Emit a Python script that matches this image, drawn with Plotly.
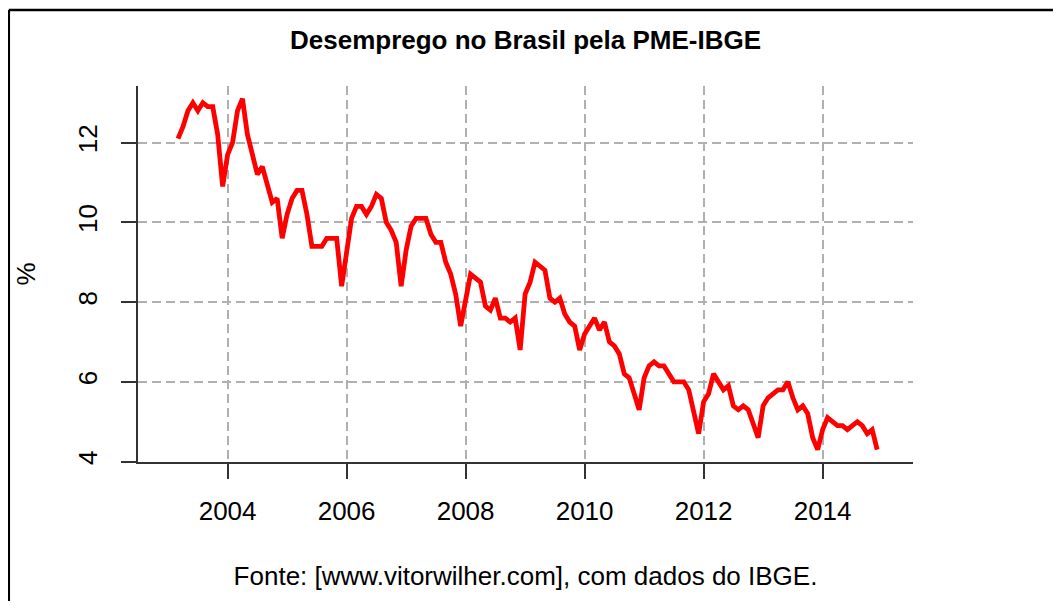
import plotly.graph_objects as go

# ---- data: PME-IBGE monthly unemployment rate (%), Mar 2003 - Dec 2014 ----
start_year = 2003
start_month = 3
unemployment = [
    # 2003 (Mar-Dec)
    12.1, 12.4, 12.8, 13.0, 12.8, 13.0, 12.9, 12.9, 12.2, 10.9,
    # 2004
    11.7, 12.0, 12.8, 13.1, 12.2, 11.7, 11.2, 11.4, 11.0, 10.5, 10.6, 9.6,
    # 2005
    10.2, 10.6, 10.8, 10.8, 10.2, 9.4, 9.4, 9.4, 9.6, 9.6, 9.6, 8.4,
    # 2006
    9.2, 10.1, 10.4, 10.4, 10.2, 10.4, 10.7, 10.6, 10.0, 9.8, 9.5, 8.4,
    # 2007
    9.3, 9.9, 10.1, 10.1, 10.1, 9.7, 9.5, 9.5, 9.0, 8.7, 8.2, 7.4,
    # 2008
    8.0, 8.7, 8.6, 8.5, 7.9, 7.8, 8.1, 7.6, 7.6, 7.5, 7.6, 6.8,
    # 2009
    8.2, 8.5, 9.0, 8.9, 8.8, 8.1, 8.0, 8.1, 7.7, 7.5, 7.4, 6.8,
    # 2010
    7.2, 7.4, 7.6, 7.3, 7.5, 7.0, 6.9, 6.7, 6.2, 6.1, 5.7, 5.3,
    # 2011
    6.1, 6.4, 6.5, 6.4, 6.4, 6.2, 6.0, 6.0, 6.0, 5.8, 5.2, 4.7,
    # 2012
    5.5, 5.7, 6.2, 6.0, 5.8, 5.9, 5.4, 5.3, 5.4, 5.3, 4.9, 4.6,
    # 2013
    5.4, 5.6, 5.7, 5.8, 5.8, 6.0, 5.6, 5.3, 5.4, 5.2, 4.6, 4.3,
    # 2014
    4.8, 5.1, 5.0, 4.9, 4.9, 4.8, 4.9, 5.0, 4.9, 4.7, 4.8, 4.3,
]

x_tick_vals = [2004, 2006, 2008, 2010, 2012, 2014]
x_tick_text = ["2004", "2006", "2008", "2010", "2012", "2014"]
y_tick_vals = [4, 6, 8, 10, 12]
y_tick_text = ["4", "6", "8", "10", "12"]

chart_title = "Desemprego no Brasil pela PME-IBGE"
x_label = "Fonte: [www.vitorwilher.com], com dados do IBGE."
y_label = "%"

# time index as in an R ts object (year + (month-1)/12)
time_index = [start_year + (start_month - 1 + i) / 12 for i in range(len(unemployment))]

FONT = "Liberation Sans, Arial, sans-serif"
W, H = 1045, 593
ML, MR, MT, MB = 130, 140, 78, 139
PW, PH = W - ML - MR, H - MT - MB

fig = go.Figure()
fig.add_trace(go.Scatter(
    x=time_index, y=unemployment, mode="lines",
    line=dict(color="#ff0000", width=4.8),
    hoverinfo="x+y", showlegend=False,
))

axis_common = dict(
    showline=True, linecolor="#333333", linewidth=1.5,
    ticks="outside", ticklen=15, tickwidth=1.5, tickcolor="#333333",
    showgrid=True, gridcolor="#b0b0b0", gridwidth=1.5, griddash="9px,5px",
    zeroline=False, mirror=False,
    tickfont=dict(family=FONT, size=26, color="#000000"),
)

fig.update_layout(
    width=W, height=H,
    margin=dict(l=ML, r=MR, t=MT, b=MB, pad=0),
    paper_bgcolor="white", plot_bgcolor="white",
    title=dict(
        text=chart_title, x=0.5, xref="paper", xanchor="center",
        y=1 - 32 / H, yref="container", yanchor="middle",
        font=dict(family=FONT, size=26, color="#000000", weight="bold"),
    ),
    xaxis=dict(
        range=[2002.494, 2002.494 + PW / 59.5],
        tickmode="array", tickvals=x_tick_vals, ticktext=x_tick_text,
        ticklabelstandoff=10,
        title=dict(text=x_label, standoff=42,
                   font=dict(family=FONT, size=26, color="#000000")),
        **axis_common,
    ),
    yaxis=dict(
        range=[3.99, 3.99 + PH / 39.875],
        tickmode="array", tickvals=y_tick_vals, ticktext=y_tick_text,
        tickangle=-90, ticklabelstandoff=14,
        title=dict(text=y_label, standoff=30,
                   font=dict(family=FONT, size=26, color="#000000")),
        **axis_common,
    ),
    shapes=[
        # outer frame (top and left edges, as in the screenshot)
        dict(type="line", xref="paper", yref="paper",
             x0=(0.8 - ML) / PW, x1=(W + 20 - ML) / PW,
             y0=1 + (MT - 2) / PH, y1=1 + (MT - 2) / PH,
             line=dict(color="#000000", width=2.5)),
        dict(type="line", xref="paper", yref="paper",
             x0=(0.8 - ML) / PW, x1=(0.8 - ML) / PW,
             y0=-(MB + 20) / PH, y1=1 + (MT - 2) / PH,
             line=dict(color="#000000", width=2.5)),
    ],
)

fig.write_html("out.html", config={"displayModeBar": False})
